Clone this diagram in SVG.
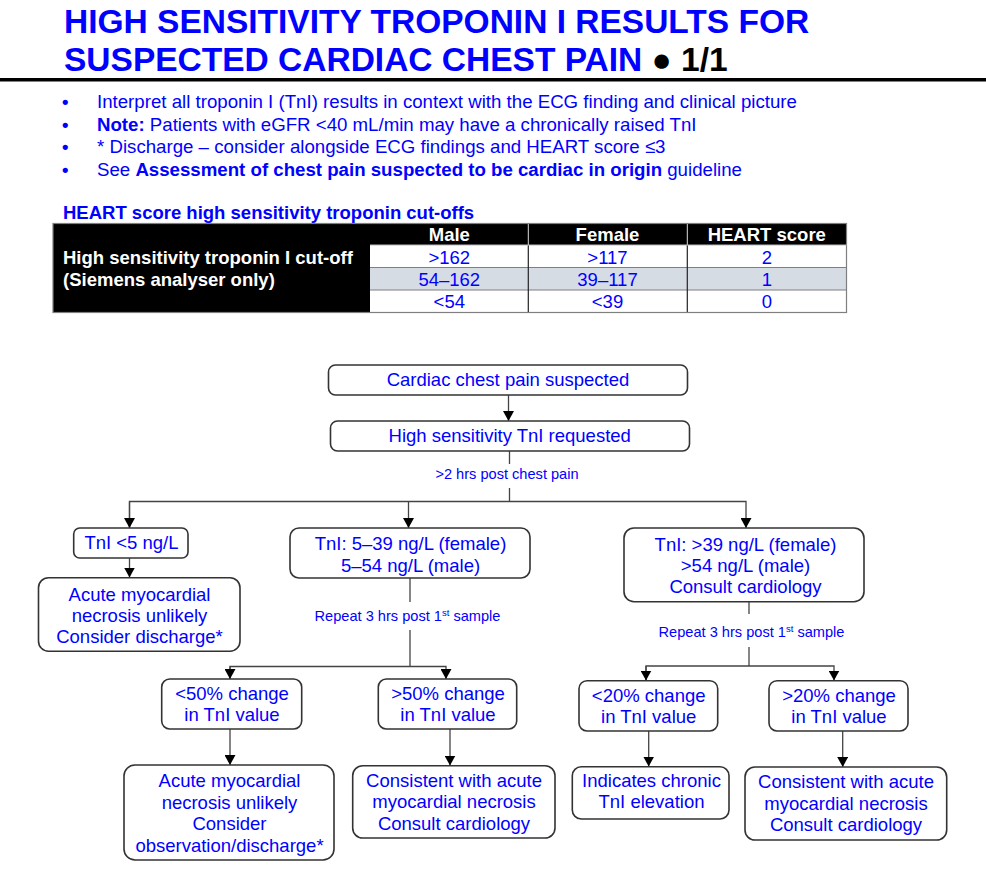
<svg xmlns="http://www.w3.org/2000/svg" width="986" height="885" viewBox="0 0 986 885">
<style>
text{font-family:"Liberation Sans",Arial,sans-serif;}
.t{font-size:33.5px;font-weight:bold;fill:#0000ff;}
.b{font-size:18.5px;fill:#0000ff;}
.bl{font-size:18.67px;fill:#0000ff;}
.dot{font-size:18.5px;font-weight:bold;fill:#0000ff;}
.bw{font-size:18.5px;fill:#ffffff;font-weight:bold;}
.bb{font-weight:bold;}
.c{text-anchor:middle;}
.lab{font-size:14.6px;fill:#0000ff;text-anchor:middle;}
.box{fill:#ffffff;stroke:#333333;stroke-width:1.6;}
.con{stroke:#444444;stroke-width:1.3;fill:none;}
.grid{stroke:#7f7f7f;stroke-width:1.2;fill:none;}
</style>
<defs>
<marker id="ah" markerUnits="userSpaceOnUse" markerWidth="11" markerHeight="11" refX="10" refY="5.5" orient="auto">
<path d="M0,0 L10,5.5 L0,11 z" fill="#000000"/>
</marker>
</defs>
<rect width="986" height="885" fill="#ffffff"/>

<g id="title">
<text class="t" x="64" y="32.5">HIGH SENSITIVITY TROPONIN I RESULTS FOR</text>
<text class="t" x="64" y="71">SUSPECTED CARDIAC CHEST PAIN <tspan fill="#000000">● 1/1</tspan></text>
<rect x="0" y="78" width="986" height="3.5" fill="#000000"/>
</g>

<g id="bullets">
<text class="dot" x="62" y="108">•</text>
<text class="dot" x="62" y="130.5">•</text>
<text class="dot" x="62" y="153">•</text>
<text class="dot" x="62" y="175.5">•</text>
<text class="bl" x="97" y="108">Interpret all troponin I (TnI) results in context with the ECG finding and clinical picture</text>
<text class="bl" x="97" y="130.5"><tspan class="bb">Note:</tspan> Patients with eGFR &lt;40 mL/min may have a chronically raised TnI</text>
<text class="bl" x="97" y="153">* Discharge – consider alongside ECG findings and HEART score ≤3</text>
<text class="bl" x="97" y="175.5">See <tspan class="bb">Assessment of chest pain suspected to be cardiac in origin</tspan> guideline</text>
</g>

<g id="table">
<text class="b bb" x="63" y="218.5">HEART score high sensitivity troponin cut-offs</text>
<rect x="53" y="223.5" width="317" height="89" fill="#000000"/>
<rect x="370" y="223.5" width="476.5" height="21.5" fill="#000000"/>
<rect x="370" y="267.5" width="476.5" height="22.5" fill="#d6dce4"/>
<line class="grid" x1="370" y1="267.5" x2="846.5" y2="267.5"/>
<line class="grid" x1="370" y1="290" x2="846.5" y2="290"/>
<line x1="528.3" y1="245" x2="528.3" y2="312.5" stroke="#222" stroke-width="1.2"/>
<line x1="687.3" y1="245" x2="687.3" y2="312.5" stroke="#222" stroke-width="1.2"/>
<line x1="528.3" y1="223.5" x2="528.3" y2="245" stroke="#dddddd" stroke-width="1"/>
<line x1="687.3" y1="223.5" x2="687.3" y2="245" stroke="#dddddd" stroke-width="1"/>
<rect class="grid" x="53" y="223.5" width="793.5" height="89"/>
<line x1="370" y1="245" x2="846.5" y2="245" stroke="#bbbbbb" stroke-width="1"/>
<text class="bw" x="63" y="264">High sensitivity troponin I cut-off</text>
<text class="bw" x="63" y="285.5">(Siemens analyser only)</text>
<text class="bw c" x="449.3" y="240.5">Male</text>
<text class="bw c" x="607.5" y="240.5">Female</text>
<text class="bw c" x="766.8" y="240.5">HEART score</text>
<text class="b c" x="449.3" y="263.5">&gt;162</text>
<text class="b c" x="607.5" y="263.5">&gt;117</text>
<text class="b c" x="766.8" y="263.5">2</text>
<text class="b c" x="449.3" y="286">54–162</text>
<text class="b c" x="607.5" y="286">39–117</text>
<text class="b c" x="766.8" y="286">1</text>
<text class="b c" x="449.3" y="307.5">&lt;54</text>
<text class="b c" x="607.5" y="307.5">&lt;39</text>
<text class="b c" x="766.8" y="307.5">0</text>
</g>

<g id="connectors">
<line class="con" x1="508.5" y1="395" x2="508.5" y2="421" marker-end="url(#ah)"/>
<line class="con" x1="509.5" y1="451" x2="509.5" y2="464"/>
<line class="con" x1="509.5" y1="488" x2="509.5" y2="501.5"/>
<polyline class="con" points="129.5,528 129.5,501.5 746,501.5 746,528" marker-end="url(#ah)"/>
<line class="con" x1="129.5" y1="501.5" x2="129.5" y2="528" marker-end="url(#ah)"/>
<line class="con" x1="408.5" y1="501.5" x2="408.5" y2="528" marker-end="url(#ah)"/>
<line class="con" x1="129.5" y1="558" x2="129.5" y2="577.5" marker-end="url(#ah)"/>
<line class="con" x1="410" y1="578" x2="410" y2="602"/>
<line class="con" x1="410" y1="630" x2="410" y2="666.5"/>
<polyline class="con" points="230,679 230,666.5 446,666.5 446,679" marker-end="url(#ah)"/>
<line class="con" x1="230" y1="666.5" x2="230" y2="679" marker-end="url(#ah)"/>
<line class="con" x1="230" y1="729" x2="230" y2="765" marker-end="url(#ah)"/>
<line class="con" x1="450" y1="729" x2="450" y2="765.5" marker-end="url(#ah)"/>
<line class="con" x1="749" y1="602" x2="749" y2="614"/>
<line class="con" x1="749" y1="647" x2="749" y2="666"/>
<polyline class="con" points="646,680.5 646,666 834,666 834,680.5" marker-end="url(#ah)"/>
<line class="con" x1="646" y1="666" x2="646" y2="680.5" marker-end="url(#ah)"/>
<line class="con" x1="648.7" y1="731" x2="648.7" y2="766.5" marker-end="url(#ah)"/>
<line class="con" x1="842.7" y1="731" x2="842.7" y2="767" marker-end="url(#ah)"/>
<text class="lab" x="507" y="479">&gt;2 hrs post chest pain</text>
<text class="lab" x="407.5" y="621">Repeat 3 hrs post 1<tspan font-size="9.5" dy="-5">st</tspan><tspan dy="5"> sample</tspan></text>
<text class="lab" x="751.5" y="637">Repeat 3 hrs post 1<tspan font-size="9.5" dy="-5">st</tspan><tspan dy="5"> sample</tspan></text>
</g>

<g id="n-start">
<rect class="box" x="328.5" y="365" width="359" height="30" rx="7"/>
<text class="b c" x="508" y="385.5">Cardiac chest pain suspected</text>
</g>
<g id="n-request">
<rect class="box" x="330.5" y="421" width="359" height="30" rx="7"/>
<text class="b c" x="509.7" y="441.5">High sensitivity TnI requested</text>
</g>
<g id="n-low">
<rect class="box" x="73.7" y="528" width="114.3" height="30" rx="6"/>
<text class="b c" x="131.5" y="548.5">TnI &lt;5 ng/L</text>
</g>
<g id="n-low-out">
<rect class="box" x="38.5" y="577.7" width="201.5" height="73.5" rx="10"/>
<text class="b c" x="139.5" y="600.5">Acute myocardial</text>
<text class="b c" x="139.5" y="621.8">necrosis unlikely</text>
<text class="b c" x="139.5" y="643">Consider discharge*</text>
</g>
<g id="n-mid">
<rect class="box" x="290" y="528" width="240" height="50" rx="9"/>
<text class="b c" x="410.5" y="549.5">TnI: 5–39 ng/L (female)</text>
<text class="b c" x="410.5" y="571.5">5–54 ng/L (male)</text>
</g>
<g id="n-high">
<rect class="box" x="624" y="528" width="240" height="73.7" rx="10"/>
<text class="b c" x="745.5" y="550.5">TnI: &gt;39 ng/L (female)</text>
<text class="b c" x="745.5" y="572">&gt;54 ng/L (male)</text>
<text class="b c" x="745.5" y="593">Consult cardiology</text>
</g>
<g id="n-lt50">
<rect class="box" x="161.7" y="679" width="140" height="50" rx="8"/>
<text class="b c" x="232" y="700">&lt;50% change</text>
<text class="b c" x="232" y="720.5">in TnI value</text>
</g>
<g id="n-gt50">
<rect class="box" x="378.3" y="679" width="138.4" height="50" rx="8"/>
<text class="b c" x="448" y="700">&gt;50% change</text>
<text class="b c" x="448" y="720.5">in TnI value</text>
</g>
<g id="n-lt50-out">
<rect class="box" x="124" y="765" width="210" height="95" rx="11"/>
<text class="b c" x="229.5" y="787">Acute myocardial</text>
<text class="b c" x="229.5" y="808.5">necrosis unlikely</text>
<text class="b c" x="229.5" y="830">Consider</text>
<text class="b c" x="229.5" y="851.5">observation/discharge*</text>
</g>
<g id="n-gt50-out">
<rect class="box" x="352.7" y="765.7" width="202.3" height="72.3" rx="10"/>
<text class="b c" x="454" y="787">Consistent with acute</text>
<text class="b c" x="454" y="808">myocardial necrosis</text>
<text class="b c" x="454" y="829.5">Consult cardiology</text>
</g>
<g id="n-lt20">
<rect class="box" x="579" y="680.7" width="138.7" height="50.3" rx="8"/>
<text class="b c" x="648.7" y="702">&lt;20% change</text>
<text class="b c" x="648.7" y="722.5">in TnI value</text>
</g>
<g id="n-gt20">
<rect class="box" x="769" y="680.7" width="139" height="50.3" rx="8"/>
<text class="b c" x="839" y="702">&gt;20% change</text>
<text class="b c" x="839" y="722.5">in TnI value</text>
</g>
<g id="n-lt20-out">
<rect class="box" x="572.3" y="766.7" width="156.7" height="52.3" rx="9"/>
<text class="b c" x="651.5" y="787">Indicates chronic</text>
<text class="b c" x="651.5" y="808">TnI elevation</text>
</g>
<g id="n-gt20-out">
<rect class="box" x="745" y="767" width="201.7" height="73" rx="10"/>
<text class="b c" x="846" y="788">Consistent with acute</text>
<text class="b c" x="846" y="809.5">myocardial necrosis</text>
<text class="b c" x="846" y="830.5">Consult cardiology</text>
</g>
</svg>
